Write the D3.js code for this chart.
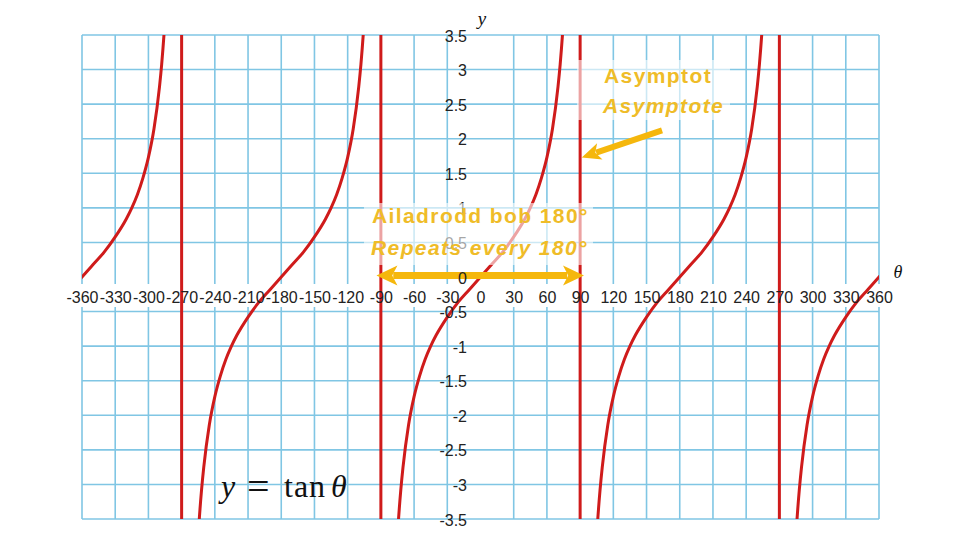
<!DOCTYPE html>
<html><head><meta charset="utf-8">
<script src="https://cdn.jsdelivr.net/npm/d3@7"></script>
<style>body{margin:0;background:#fff}svg{display:block}</style>
</head><body>
<script>
const xTicks = [-360,-330,-300,-270,-240,-210,-180,-150,-120,-90,-60,-30,0,30,60,90,120,150,180,210,240,270,300,330,360];
const yTicks = [-3.5,-3,-2.5,-2,-1.5,-1,-0.5,0,0.5,1,1.5,2,2.5,3,3.5];
const asymptotes = [-270,-90,90,270];
const branchCenters = [-360,-180,0,180,360];
const branchAngles = [-76,-74,-72,-70,-65,-60,-55,-50,-45,-40,-30,-20,-10,0,10,20,30,40,45,50,55,60,65,70,72,74,76];
const branchValues = [-4.01,-3.49,-3.08,-2.75,-2.14,-1.73,-1.43,-1.19,-1,-0.84,-0.58,-0.36,-0.18,0,0.18,0.36,0.58,0.84,1,1.19,1.43,1.73,2.14,2.75,3.08,3.49,4.01];

const W=960,H=540;
const svg=d3.select("body").append("svg").attr("width",W).attr("height",H);
const x=d3.scaleLinear().domain([-360,360]).range([82,879]);
const y=d3.scaleLinear().domain([-3.5,3.5]).range([519,35]);
const gridC="#80c6e4", redC="#cf1b1b", goldT="#efbc28", goldA="#f5b70c";

// grid
const g=svg.append("g");
g.selectAll("line.v").data(xTicks.filter(d=>d!==0)).join("line")
 .attr("x1",d=>x(d)).attr("x2",d=>x(d)).attr("y1",y(3.5)).attr("y2",y(-3.5))
 .attr("stroke",gridC).attr("stroke-width",1.6);
g.selectAll("line.h").data(yTicks.filter(d=>d!==0)).join("line")
 .attr("y1",d=>y(d)).attr("y2",d=>y(d)).attr("x1",x(-360)).attr("x2",x(360))
 .attr("stroke",gridC).attr("stroke-width",1.6);
// white band behind x labels
svg.append("rect").attr("x",x(-360)-1).attr("width",x(360)-x(-360)+2).attr("y",284).attr("height",23).attr("fill","#fff");

// clip
svg.append("clipPath").attr("id","clip").append("rect")
 .attr("x",x(-360)).attr("y",y(3.5)).attr("width",x(360)-x(-360)).attr("height",y(-3.5)-y(3.5));
const cg=svg.append("g").attr("clip-path","url(#clip)");
cg.selectAll("line.a").data(asymptotes).join("line")
 .attr("x1",d=>x(d)).attr("x2",d=>x(d)).attr("y1",y(3.5)).attr("y2",y(-3.5))
 .attr("stroke",redC).attr("stroke-width",3);
const line=d3.line().x(d=>x(d[0])).y(d=>y(d[1])).curve(d3.curveMonotoneX);
cg.selectAll("path.b").data(branchCenters).join("path")
 .attr("d",c=>line(branchAngles.map((a,i)=>[c+a,branchValues[i]])))
 .attr("fill","none").attr("stroke",redC).attr("stroke-width",3);

// arrows
function arrow(p0,p1,w,hl,hw,double){
  const ag=svg.append("g").attr("fill",goldA);
  const dx=p1[0]-p0[0],dy=p1[1]-p0[1],L=Math.hypot(dx,dy),ux=dx/L,uy=dy/L;
  const a=double?p0.map((v,i)=>v+[ux,uy][i]*hl*0.8):p0;
  const b=p1.map((v,i)=>v-[ux,uy][i]*hl*0.8);
  ag.append("line").attr("x1",a[0]).attr("y1",a[1]).attr("x2",b[0]).attr("y2",b[1]).attr("stroke",goldA).attr("stroke-width",w);
  const head=(t,sx,sy)=>{
    const bx=t[0]-sx*hl,by=t[1]-sy*hl, nxx=-sy,nyy=sx;
    const mx=t[0]-sx*hl*0.75,my=t[1]-sy*hl*0.75;
    return `M${t[0]},${t[1]}L${bx+nxx*hw/2},${by+nyy*hw/2}L${mx},${my}L${bx-nxx*hw/2},${by-nyy*hw/2}Z`;
  };
  ag.append("path").attr("d",head(p1,ux,uy));
  if(double) ag.append("path").attr("d",head(p0,-ux,-uy));
}
arrow([x(-94),y(0.02)],[x(93.5),y(0.02)],7,21,20,true);
arrow([x(164),y(2.12)],[x(91.5),y(1.73)],6,19,17,false);

// labels
const lab=svg.append("g").attr("font-family","'Liberation Sans',Arial,sans-serif").attr("font-size",16).attr("fill","#222");
lab.selectAll("text.x").data(xTicks).join("text")
 .attr("x",d=>x(d)+0.5).attr("y",303).attr("text-anchor","middle").text(d=>d);
lab.selectAll("text.y").data(yTicks).join("text")
 .attr("x",467).attr("y",d=>y(d)+6.5).attr("text-anchor","end").text(d=>d);

// translucent boxes
svg.append("rect").attr("x",364).attr("y",203).attr("width",229).attr("height",62).attr("fill","#fff").attr("fill-opacity",0.6);
svg.append("rect").attr("x",577).attr("y",60).attr("width",153).attr("height",60).attr("fill","#fff").attr("fill-opacity",0.6);

const tg=svg.append("g").attr("font-family","'Liberation Sans',Arial,sans-serif").attr("font-size",21).attr("font-weight","bold").attr("fill",goldT).style("letter-spacing","1.4px");
tg.append("text").attr("x",604).attr("y",83).text("Asymptot");
tg.append("text").attr("x",603).attr("y",113).attr("font-style","italic").text("Asymptote");
tg.append("text").attr("x",372).attr("y",223).text("Ailadrodd bob 180°");
tg.append("text").attr("x",371).attr("y",255).attr("font-style","italic").text("Repeats every 180°");

// math labels
const mg=svg.append("g").attr("font-family","'Liberation Serif','Times New Roman',serif").attr("fill","#111");
mg.append("text").attr("x",482).attr("y",25).attr("text-anchor","middle").attr("font-size",19).attr("font-style","italic").text("y");
mg.append("text").attr("x",898).attr("y",278).attr("text-anchor","middle").attr("font-size",18).attr("font-style","italic").text("θ");
const eq=mg.append("text").attr("y",497).attr("font-size",32);
eq.append("tspan").attr("x",221).attr("font-style","italic").text("y");
eq.append("tspan").attr("x",247).attr("dy",3).attr("font-size",40).text("=");
eq.append("tspan").attr("x",284).attr("dy",-3).style("letter-spacing","1px").text("tan");
eq.append("tspan").attr("x",331).attr("font-style","italic").text("θ");
</script>
</body></html>
